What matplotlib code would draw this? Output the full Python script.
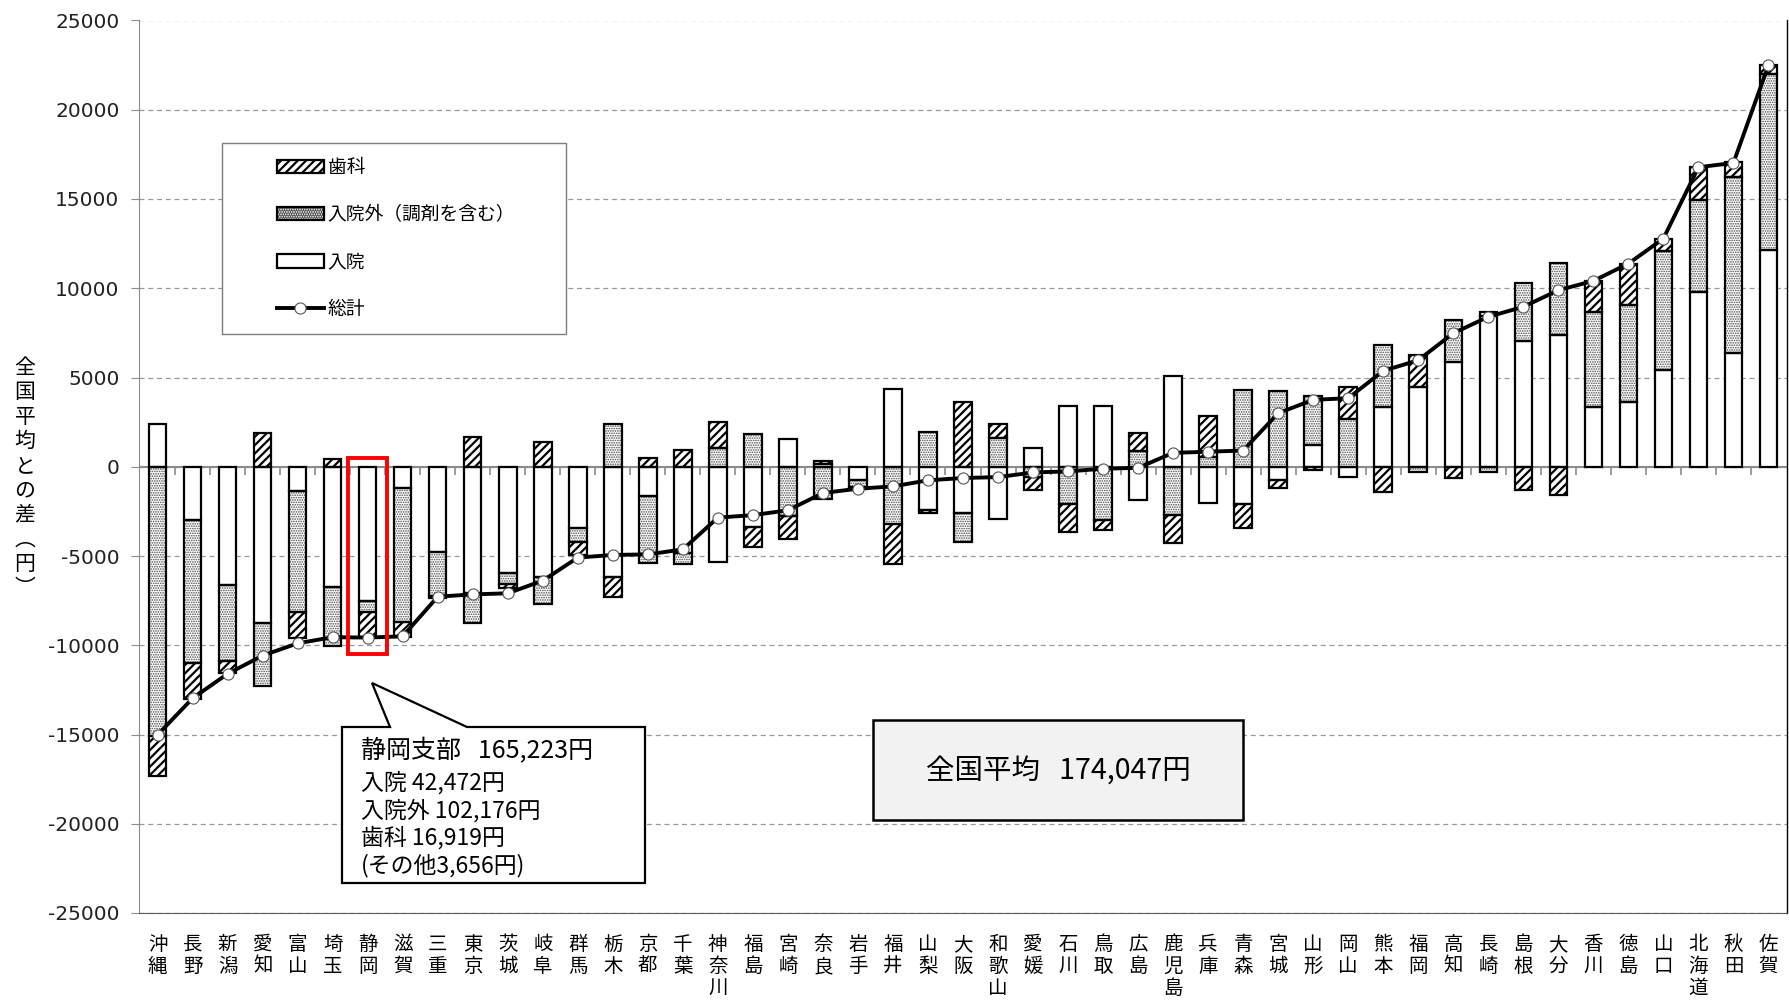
import numpy as np
import matplotlib
matplotlib.use("Agg")
import matplotlib.pyplot as plt
from matplotlib.patches import Patch, Rectangle, Polygon
from matplotlib.lines import Line2D

plt.rcParams['font.family'] = ['Noto Sans CJK JP', 'DejaVu Sans']
plt.rcParams['hatch.linewidth'] = 1.6

# 都道府県（総計の小さい順）
prefs = ["沖縄", "長野", "新潟", "愛知", "富山", "埼玉", "静岡", "滋賀", "三重", "東京",
         "茨城", "岐阜", "群馬", "栃木", "京都", "千葉", "神奈川", "福島", "宮崎", "奈良",
         "岩手", "福井", "山梨", "大阪", "和歌山", "愛媛", "石川", "鳥取", "広島", "鹿児島",
         "兵庫", "青森", "宮城", "山形", "岡山", "熊本", "福岡", "高知", "長崎", "島根",
         "大分", "香川", "徳島", "山口", "北海道", "秋田", "佐賀"]

# 全国平均との差（円）
nyuin = [2370, -3000, -6620, -8770, -1360, -6720, -7500, -1210, -4760, -7090,
         -5970, -6160, -3450, -6160, -1640, -4850, -5320, -3380, 1570, 170,
         -770, 4330, -2410, -2590, -2910, 1040, 3430, 3430, -1880, 5110,
         -2010, -2110, -770, 1230, -600, 3320, 4440, 5880, 8450, 7050,
         7390, 3320, 3640, 5430, 9790, 6400, 12150]
gairai = [-15100, -8000, -4290, -3540, -6750, -3320, -620, -7460, -2480, -1640,
          -600, -1530, -780, 2370, -3730, -600, 1030, 1810, -2760, -1790,
          -370, -3230, 1960, -1620, 1620, -600, -2110, -2970, 910, -2690,
          540, 4310, 4270, 2760, 2670, 3510, -300, 2330, -300, 3260,
          4010, 5350, 5410, 6660, 5160, 9820, 9850]
shika = [-2200, -2000, -650, 1870, -1490, 450, -1400, -840, -100, 1640,
         -250, 1380, -710, -1160, 470, 930, 1490, -1120, -1270, 150,
         -100, -2200, -190, 3620, 780, -700, -1550, -600, 970, -1590,
         2290, -1320, -430, -200, 1770, -1440, 1830, -650, 240, -1310,
         -1590, 1730, 2330, 650, 1830, 840, 500]
soukei = [-15020, -12970, -11600, -10580, -9890, -9550, -9570, -9500, -7280, -7150,
          -7090, -6380, -5090, -4940, -4910, -4630, -2850, -2710, -2440, -1470,
          -1230, -1100, -760, -630, -580, -320, -260, -110, -60, 780,
          840, 910, 3000, 3750, 3840, 5370, 5970, 7480, 8400, 8960,
          9890, 10410, 11380, 12780, 16780, 17020, 22500]

W, H = 1790, 1001


def fx(px):
    return px / W


def fy(py):
    return 1 - py / H


def hatch_lw(artists, lw):
    for a in artists:
        if hasattr(a, "set_hatch_linewidth"):
            a.set_hatch_linewidth(lw)


DOT_COL = "#4a4a4a"
DOT_LW = 0.8
DOTS = "......."

fig = plt.figure(figsize=(W / 100, H / 100), dpi=100)
ax = fig.add_axes([fx(139), fy(913), (1787 - 139) / W, (913 - 20.5) / H])

x = np.arange(len(prefs))
pos_base = np.zeros(len(prefs))
neg_base = np.zeros(len(prefs))
series = [(nyuin, None, "white", 1.6), (gairai, DOTS, DOT_COL, DOT_LW),
          (shika, "////", "black", 1.6)]
for vals, hatch, hcol, hlw in series:
    v = np.array(vals, dtype=float)
    bottom = np.where(v >= 0, pos_base, neg_base)
    with plt.rc_context({"hatch.linewidth": hlw}):
        bars = ax.bar(x, v, 0.5, bottom=bottom, facecolor="white", edgecolor=hcol,
                      hatch=hatch, linewidth=0, zorder=3)
    hatch_lw(bars, hlw)
    ax.bar(x, v, 0.5, bottom=bottom, fill=False, edgecolor="black",
           linewidth=1.6, zorder=3.5)
    pos_base = pos_base + np.where(v >= 0, v, 0)
    neg_base = neg_base + np.where(v < 0, v, 0)

ax.plot(x, soukei, color="black", lw=2.8, marker="o", markersize=8,
        markerfacecolor="white", markeredgecolor="#555555", markeredgewidth=0.8, zorder=5)

# 0 の線と区切り目盛
ax.axhline(0, color="#8c8c8c", lw=1.5, zorder=2)
ax.vlines(x[:-1] + 0.5, -450, 0, color="#8c8c8c", lw=1.2, zorder=2)

ax.set_xlim(-0.53, len(prefs) - 0.47)
ax.set_ylim(-25000, 25000)
yt = np.arange(-25000, 25001, 5000)
ax.set_yticks(yt)
ax.set_yticklabels([str(v) for v in yt], family="DejaVu Sans", fontsize=14.5, color="#222222")
ax.grid(axis="y", color="#999999", ls=(0, (4, 3)), lw=0.9, zorder=1)
ax.set_axisbelow(True)

ax.set_xticks(x)
ax.set_xticklabels(["\n".join(p) for p in prefs], fontsize=14, linespacing=1.07, va="top")
ax.tick_params(axis="x", length=0, pad=15)
ax.tick_params(axis="y", length=6, color="#8c8c8c", pad=8)

ax.spines["top"].set_visible(False)
ax.spines["left"].set_color("#8c8c8c")
ax.spines["bottom"].set_color("#595959")
ax.spines["right"].set_color("black")
ax.spines["right"].set_linewidth(1.0)

fig.text(fx(25), fy(478), "\n".join("全国平均との差︵円︶"), fontsize=15,
         ha="center", va="center", linespacing=1.15)

# 凡例
frame = Rectangle((fx(222), fy(334)), fx(566) - fx(222), fy(143) - fy(334),
                  transform=fig.transFigure, facecolor="white", edgecolor="#7f7f7f",
                  lw=1.0, zorder=6, clip_on=False)
ax.add_patch(frame)
with plt.rc_context({"hatch.linewidth": 1.6}):
    h_shika = (Patch(facecolor="white", edgecolor="black", hatch="////", lw=0),
               Patch(fill=False, edgecolor="black", lw=1.6))
with plt.rc_context({"hatch.linewidth": DOT_LW}):
    h_gai = (Patch(facecolor="white", edgecolor=DOT_COL, hatch=DOTS, lw=0),
             Patch(fill=False, edgecolor="black", lw=1.6))
hatch_lw([h_shika[0]], 1.6)
hatch_lw([h_gai[0]], DOT_LW)
h_nyu = Patch(facecolor="white", edgecolor="black", lw=1.6)
h_tot = Line2D([], [], color="black", lw=2.8, marker="o", markersize=8,
               markerfacecolor="white", markeredgecolor="#555555", markeredgewidth=0.8)
leg = ax.legend([h_shika, h_gai, h_nyu, h_tot], ["歯科", "入院外（調剤を含む）", "入院", "総計"],
                loc="upper left", bbox_to_anchor=(fx(262), fy(142)),
                bbox_transform=fig.transFigure, frameon=False, fontsize=13.5,
                handlelength=2.5, handleheight=0.7, labelspacing=1.4, handletextpad=0.2,
                borderpad=0.3)
leg.set_zorder(7)

# 静岡の強調枠
ax.add_patch(Rectangle((6 - 0.56, -10500), 1.12, 10990, fill=False, edgecolor="#ff0000",
                       lw=2.8, zorder=6))

# 吹き出し
pts = [(342, 727), (390, 727), (372, 683), (467, 727), (645, 727), (645, 883), (342, 883)]
callout = Polygon([(fx(a), fy(b)) for a, b in pts], closed=True, transform=fig.transFigure,
                  facecolor="white", edgecolor="black", lw=1.6, zorder=6, clip_on=False)
ax.add_patch(callout)
fig.text(fx(361), fy(751), "静岡支部   165,223円", fontsize=18, va="center", zorder=8)
lines = ["入院 42,472円", "入院外 102,176円", "歯科 16,919円", "(その他3,656円)"]
for i, t in enumerate(lines):
    fig.text(fx(361), fy(783 + 27.5 * i), t, fontsize=16.5, va="center", zorder=8)

# 全国平均の箱
box = Rectangle((fx(873), fy(820)), fx(1243) - fx(873), fy(720) - fy(820),
                transform=fig.transFigure, facecolor="#f2f2f2", edgecolor="black",
                lw=1.8, zorder=6, clip_on=False)
ax.add_patch(box)
fig.text(fx(1058), fy(772), "全国平均   174,047円", fontsize=20.5, ha="center", va="center", zorder=8)

fig.savefig("out.png", dpi=100, facecolor="white")
